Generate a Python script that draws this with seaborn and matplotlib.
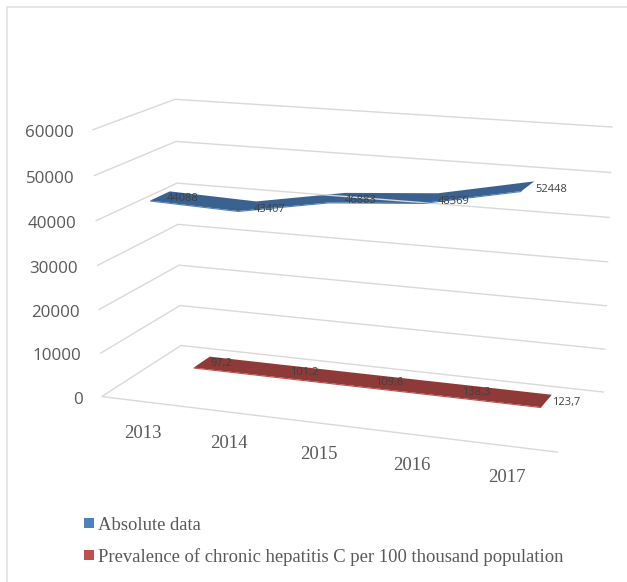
import numpy as np
import pandas as pd
import seaborn as sns
import matplotlib
matplotlib.use("Agg")
import matplotlib.pyplot as plt
from matplotlib.patches import Rectangle

years = ["2013", "2014", "2015", "2016", "2017"]
absolute_data = [44088, 43407, 46883, 48369, 52448]
prevalence = [97.2, 101.2, 109.6, 138.3, 123.7]
prevalence_labels = ["97,2", "101,2", "109,6", "138,3", "123,7"]
value_ticks = [0, 10000, 20000, 30000, 40000, 50000, 60000]
legend_labels = ["Absolute data", "Prevalence of chronic hepatitis C per 100 thousand population"]

VALUE_MAX = 60000
TEXT = "#595959"
GRID = "#d9d9d9"

sns.set_theme(style="white")
W, H = 627, 582
fig = plt.figure(figsize=(W / 100, H / 100), dpi=100, facecolor="white")
ax = fig.add_axes([0, 0, 1, 1])
ax.set_xlim(0, W)
ax.set_ylim(H, 0)
ax.axis("off")

# Camera of the pseudo-3D box: (along, depth, height) corners and where they land on the canvas
box_corners = np.array([[0, 0, 0], [0, 1, 0], [1, 1, 0], [1, 0, 0],
                        [0, 0, 1], [0, 1, 1], [1, 1, 1]], float)
canvas_corners = np.array([[101.7, 396.7], [181, 345.3], [604, 392.3], [558, 452],
                           [92.3, 130], [175, 99.3], [612.7, 127]], float)


def fit_camera(src, dst):
    rows = []
    for (a, b, c), (x, y) in zip(src, dst):
        rows.append([a, b, c, 1, 0, 0, 0, 0, -x * a, -x * b, -x * c, -x])
        rows.append([0, 0, 0, 0, a, b, c, 1, -y * a, -y * b, -y * c, -y])
    return np.linalg.svd(np.array(rows))[2][-1].reshape(3, 4)


camera = fit_camera(box_corners, canvas_corners)


def project(along, depth, value):
    along, depth, value = np.broadcast_arrays(along, depth, np.asarray(value, float) / VALUE_MAX)
    pts = camera @ np.vstack([along, depth, value, np.ones_like(along, dtype=float)])
    return pts[0] / pts[2], pts[1] / pts[2]


def draw_path(xs, ys, color, lw):
    frame = pd.DataFrame({"x": xs, "y": ys})
    sns.lineplot(data=frame, x="x", y="y", sort=False, estimator=None, color=color,
                 linewidth=lw, ax=ax, legend=False, solid_capstyle="butt")


# Outer chart border
draw_path([7, 7, W], [H, 6.5, 6.5], "#e3e3e3", 1.3)

# Gridlines: side wall, back wall, and the front edge of the floor
for tick in value_ticks:
    xs, ys = project([0, 0, 1], [0, 1, 1], tick)
    draw_path(xs, ys, GRID, 1.0)
    lx, ly = project(0, 0, tick)
    ax.text(lx[0] - 19, ly[0] + 3, str(tick), ha="right", va="center",
            family="Open Sans", fontsize=12.2, color=TEXT)
xs, ys = project([0, 1], [0, 0], 0)
draw_path(xs, ys, GRID, 1.0)

positions = (np.arange(len(years)) + 0.5) / len(years)

# Category labels under the floor
for pos, year in zip(positions, years):
    lx, ly = project(pos, 0, 0)
    ax.text(lx[0] - 1.5, ly[0] + 31.5, year, ha="center", va="center",
            family="Liberation Serif", fontsize=13.5, color=TEXT)


# Flat ribbons: each series takes its own band along the depth axis
def ribbon(values, depth_band, face, edge, labels, offset):
    front, back = depth_band
    fx, fy = project(positions, front, values)
    bx, by = project(positions, back, values)
    ax.fill(np.r_[fx, bx[::-1]], np.r_[fy, by[::-1]], color=face, lw=0)
    draw_path(fx, fy + 0.4, edge, 0.8)
    mx, my = project(positions, (front + back) / 2, values)
    for x, y, label in zip(mx, my, labels):
        ax.text(x + offset[0], y + offset[1], label, ha="center", va="center",
                family="Open Sans", fontsize=8, color="#404040")


ribbon(absolute_data, (0.14, 0.38), "#3a6190", "#4f81bd", [str(v) for v in absolute_data], (23, 3))
ribbon(prevalence, (0.63, 0.85), "#8e3a38", "#c0504d", prevalence_labels, (20, 1.5))

# Legend
for y, color, label in zip([523, 555], ["#4f81bd", "#c0504d"], legend_labels):
    ax.add_patch(Rectangle((84, y - 5), 10, 10, color=color, lw=0))
    ax.text(98.5, y + 2, label, ha="left", va="center",
            family="Liberation Serif", fontsize=13.4, color=TEXT)

fig.savefig("out.png", dpi=100, facecolor="white")
